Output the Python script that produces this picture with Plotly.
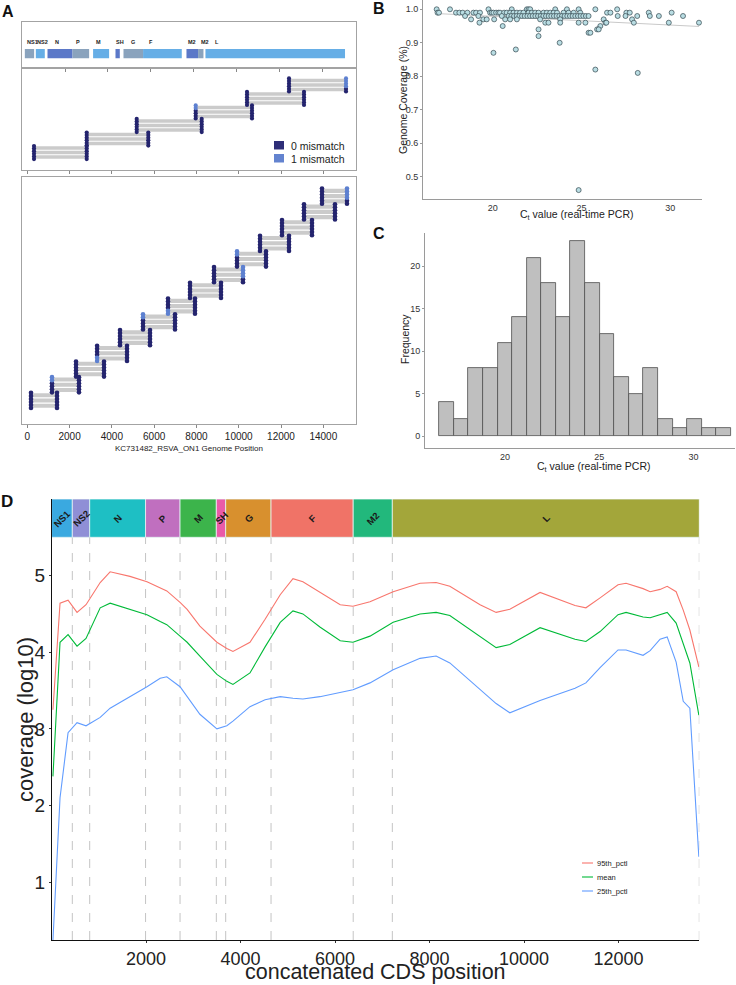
import numpy as np
import plotly.graph_objects as go

W, H = 736, 985
FONT = "Liberation Sans, Arial, Helvetica, sans-serif"

# ---------------- Panel A : gene map (genome coordinates) ----------------
a_gene_names = ["NS1", "NS2", "N", "P", "M", "SH", "G", "F", "M2", "M2", "L"]
a_gene_start = [126, 638, 1183, 2349, 3308, 4352, 4725, 5638, 7661, 8202, 8546]
a_gene_end = [560, 1057, 2349, 3123, 4054, 4553, 5638, 7442, 8202, 8453, 15052]
a_gene_label_pos = [126, 592, 1445, 2423, 3355, 4300, 4987, 5811, 7661, 8248, 8901]
a_ticks = [0, 2000, 4000, 6000, 8000, 10000, 12000, 14000]

# ---------------- Panel A : amplicon schemes ----------------
scheme1_start = [317, 2810, 5175, 7965, 10392, 12378]
scheme1_end = [2810, 5723, 8249, 10628, 13088, 15074]
scheme1_mm_left = [0, 0, 0, 2, 0, 0]      # + : top dots with 1 mismatch, - : bottom dots
scheme1_mm_right = [0, 0, 0, 0, 0, 4]

scheme2_start = [175, 1168, 2304, 3301, 4385, 5473, 6655, 7696, 8831, 9919, 11007, 12047, 13087, 13939]
scheme2_end = [1405, 2445, 3628, 4716, 5804, 6987, 7932, 9162, 10203, 11290, 12378, 13466, 14554, 15121]
scheme2_mm_left = [0, 2, 0, -2, 0, 2, -2, 0, 0, 2, 0, 0, 0, 0]
scheme2_mm_right = [0, 0, 0, 0, 0, 0, 0, 0, 4, 0, 0, 0, 0, 4]

# ---------------- Panel B : coverage vs Ct ----------------
ct_cov100 = [16.84, 17.59, 19.76, 21.07, 21.92, 22.02, 22.11, 23.52, 24.18, 24.84, 25.78, 27.01]
ct_cov099 = [16.89, 16.97, 17.93, 18.12, 18.31, 18.57, 18.91, 19.06, 19.28, 19.85, 19.94, 20.04,
             20.19, 20.32, 20.41, 20.64, 20.79, 20.98, 21.17, 21.36, 21.54, 21.73, 22.02, 22.20,
             22.39, 22.58, 22.86, 23.05, 23.24, 23.43, 23.62, 23.99, 24.27, 24.56, 24.93, 26.44,
             26.63, 27.53, 27.72, 28.79, 30.08]
ct_cov098 = [20.89, 21.05, 21.20, 21.35, 21.50, 21.65, 21.80, 21.95, 22.10, 22.25, 22.40, 22.55,
             22.70, 22.85, 23.00, 23.15, 23.30, 23.45, 23.60, 23.75, 23.90, 24.05, 24.20, 24.35,
             24.50, 24.65, 24.80, 24.95, 25.10, 25.25, 25.40, 18.44, 19.19, 20.51, 27.04, 27.48,
             28.14, 28.85, 29.36, 30.72]
ct_cov097 = [18.78, 19.47, 19.66, 20.08, 20.70, 20.98, 21.36, 22.67, 23.80, 26.25, 27.85]
ct_cov096 = [19.25, 22.96, 23.14, 23.80, 24.84, 25.22, 26.35, 26.40, 27.95, 29.92, 31.62]
low_ct = [20.56, 26.06, 25.88, 25.97, 22.58, 22.58, 25.40, 25.50, 23.77, 21.30, 20.04, 25.78, 28.17, 24.84]
low_cov = [0.95, 0.95, 0.94, 0.94, 0.94, 0.92, 0.93, 0.93, 0.90, 0.88, 0.87, 0.82, 0.81, 0.46]

# ---------------- Panel C : Ct histogram ----------------
c_bin_start = 16.5
c_bin_width = 0.775
c_counts = [4, 2, 8, 8, 11, 14, 21, 18, 14, 23, 18, 12, 7, 5, 8, 2, 1, 2, 1, 1]

# ---------------- Panel D : coverage along concatenated CDS ----------------
d_genes = ["NS1", "NS2", "N", "P", "M", "SH", "G", "F", "M2", "L"]
d_gene_start = [1, 440, 808, 1990, 2720, 3488, 3686, 4646, 6385, 7213]
d_gene_end = [440, 808, 1990, 2720, 3488, 3686, 4646, 6385, 7213, 13710]
d_pos = [30, 180, 350, 540, 730, 1030, 1240, 1660, 2020, 2300, 2440, 2720, 2870, 3140, 3500,
         3710, 3840, 4200, 4520, 4840, 5110, 5320, 5680, 6110, 6380, 6740, 7230, 7800, 8140,
         8430, 9070, 9410, 9700, 10340, 11080, 11310, 11610, 11990, 12160, 12520, 12670, 12880,
         13030, 13220, 13370, 13510, 13700]
d_pct95 = [3.25, 4.64, 4.68, 4.52, 4.62, 4.91, 5.05, 4.99, 4.92, 4.84, 4.80, 4.65, 4.56, 4.34, 4.13,
           4.05, 4.01, 4.13, 4.43, 4.75, 4.96, 4.92, 4.78, 4.62, 4.60, 4.66, 4.79, 4.90, 4.91,
           4.86, 4.62, 4.52, 4.56, 4.78, 4.61, 4.58, 4.71, 4.88, 4.90, 4.83, 4.79, 4.82,
           4.86, 4.79, 4.55, 4.29, 3.81]
d_mean = [2.38, 4.13, 4.23, 4.08, 4.18, 4.58, 4.64, 4.56, 4.49, 4.40, 4.36, 4.21, 4.13, 3.95, 3.71,
          3.62, 3.58, 3.73, 4.07, 4.39, 4.54, 4.50, 4.33, 4.15, 4.13, 4.21, 4.39, 4.50, 4.52,
          4.48, 4.21, 4.06, 4.10, 4.32, 4.17, 4.14, 4.27, 4.49, 4.52, 4.46, 4.45, 4.49,
          4.52, 4.38, 4.10, 3.86, 3.18]
d_pct25 = [0.24, 2.10, 2.95, 3.08, 3.04, 3.15, 3.27, 3.42, 3.55, 3.66, 3.68, 3.55, 3.42, 3.19, 3.00,
           3.04, 3.10, 3.29, 3.38, 3.42, 3.40, 3.39, 3.42, 3.47, 3.51, 3.60, 3.77, 3.92, 3.95,
           3.86, 3.52, 3.33, 3.21, 3.37, 3.53, 3.60, 3.80, 4.03, 4.03, 3.96, 4.02, 4.17,
           4.20, 3.87, 3.36, 3.27, 1.33]

# ======================= styles / helpers =======================
A_GENE_COLORS = ["#8aa3bd", "#66aee6", "#5b78c8"]
D_GENE_COLORS = {"NS1": "#3aa9e0", "NS2": "#8f8fd6", "N": "#1ebfc4", "P": "#c06fbf", "M": "#3cb44b",
                 "SH": "#ea5aa8", "G": "#d8902e", "F": "#f07367", "M2": "#22b87c", "L": "#a3a63a"}
DOT_DARK = "#24246e"
DOT_LIGHT = "#5d80d0"
BAND_GRAY = "#cbcbcb"
BOX_LINE = "#a3a3a3"


def dom_x(l, r):
    return [l / W, r / W]


def dom_y(t, b):
    return [1 - b / H, 1 - t / H]


def px(x):
    return x / W


def py(y):
    return 1 - y / H


annotations = []
shapes = []


def ann(text, x, y, size, xanchor="center", yanchor="middle", angle=0, bold=False,
        color="#222222", xref="paper", yref="paper"):
    if xref == "paper":
        x = px(x)
    if yref == "paper":
        y = py(y)
    annotations.append(dict(text=("<b>%s</b>" % text) if bold else text, x=x, y=y,
                            xref=xref, yref=yref, showarrow=False, textangle=angle,
                            xanchor=xanchor, yanchor=yanchor,
                            font=dict(size=size, family=FONT, color=color)))


fig = go.Figure()

# ----------------------- Panel A gene map -----------------------
for i, (s, e) in enumerate(zip(a_gene_start, a_gene_end)):
    shapes.append(dict(type="rect", xref="x", yref="y", x0=s, x1=e, y0=0.215, y1=0.415,
                       fillcolor=A_GENE_COLORS[i % 3], line=dict(width=0), layer="above"))
for name, lx in zip(a_gene_names, a_gene_label_pos):
    ann(name, lx, 0.56, 5.5, xanchor="left", bold=True, color="#222", xref="x", yref="y")


# ----------------------- Panel A amplicons -----------------------
def add_scheme(starts, ends, mm_left, mm_right, xa, ya, band_w, msize):
    bx, by = [], []
    for k, (s, e) in enumerate(zip(starts, ends)):
        for r in range(3):
            y = 3 * k + r
            bx += [s, e, None]
            by += [y, y, None]
    fig.add_trace(go.Scatter(x=bx, y=by, mode="lines", xaxis=xa, yaxis=ya,
                             line=dict(color=BAND_GRAY, width=band_w), hoverinfo="skip"))
    offsets = [-0.45, 0.13, 0.71, 1.29, 1.87, 2.45]
    n = len(offsets)
    dx, dy, lx, ly = [], [], [], []
    for k, (s, e) in enumerate(zip(starts, ends)):
        for xpos, mm in ((s, mm_left[k]), (e, mm_right[k])):
            for i, off in enumerate(offsets):
                y = 3 * k + off
                light = (mm > 0 and i >= n - mm) or (mm < 0 and i < -mm)
                if light:
                    lx.append(xpos); ly.append(y)
                else:
                    dx.append(xpos); dy.append(y)
    fig.add_trace(go.Scatter(x=dx, y=dy, mode="markers", xaxis=xa, yaxis=ya,
                             marker=dict(color=DOT_DARK, size=msize, line=dict(width=0)),
                             hoverinfo="skip"))
    fig.add_trace(go.Scatter(x=lx, y=ly, mode="markers", xaxis=xa, yaxis=ya,
                             marker=dict(color=DOT_LIGHT, size=msize, line=dict(width=0)),
                             hoverinfo="skip"))


add_scheme(scheme1_start, scheme1_end, scheme1_mm_left, scheme1_mm_right, "x2", "y2", 3.4, 4.2)
add_scheme(scheme2_start, scheme2_end, scheme2_mm_left, scheme2_mm_right, "x3", "y3", 4.1, 4.6)

# legend of panel A
shapes.append(dict(type="rect", xref="paper", yref="paper", x0=px(274), x1=px(284), y0=py(149.5),
                   y1=py(141), fillcolor="#2e2e78", line=dict(width=0)))
shapes.append(dict(type="rect", xref="paper", yref="paper", x0=px(274), x1=px(284), y0=py(162.5),
                   y1=py(154), fillcolor="#6383cf", line=dict(width=0)))
ann("0 mismatch", 288.5, 145.5, 10.5, xanchor="left")
ann("1 mismatch", 288.5, 158.5, 10.5, xanchor="left")

# ----------------------- Panel B -----------------------
b_ct = ct_cov100 + ct_cov099 + ct_cov098 + ct_cov097 + ct_cov096 + low_ct
b_cov = ([1.00] * len(ct_cov100) + [0.99] * len(ct_cov099) + [0.98] * len(ct_cov098)
         + [0.97] * len(ct_cov097) + [0.96] * len(ct_cov096) + low_cov)
coef = np.polyfit(b_ct, b_cov, 1)
fit_x = np.array([min(b_ct), max(b_ct)])
fig.add_trace(go.Scatter(x=fit_x, y=np.polyval(coef, fit_x), mode="lines", xaxis="x4", yaxis="y4",
                         line=dict(color="#c9c9c9", width=1), hoverinfo="skip"))
fig.add_trace(go.Scatter(x=b_ct, y=b_cov, mode="markers", xaxis="x4", yaxis="y4",
                         marker=dict(size=5, color="#b9dde3", line=dict(color="#34484f", width=0.7))))

# ----------------------- Panel C -----------------------
c_centers = c_bin_start + c_bin_width * (np.arange(len(c_counts)) + 0.5)
fig.add_trace(go.Bar(x=c_centers, y=c_counts, width=c_bin_width, xaxis="x5", yaxis="y5",
                     marker=dict(color="#bfbfbf", line=dict(color="#4f4f4f", width=0.8))))

# ----------------------- Panel D -----------------------
for g, s, e in zip(d_genes, d_gene_start, d_gene_end):
    shapes.append(dict(type="rect", xref="x6", yref="y6", x0=s, x1=e, y0=5.5, y1=6.0,
                       fillcolor=D_GENE_COLORS[g], line=dict(color="#e4f4f2", width=0.8), layer="below"))
    shapes.append(dict(type="line", xref="x6", yref="y6", x0=e, x1=e, y0=0.244, y1=5.5,
                       line=dict(color="#bdbdbd", width=0.9, dash="dash"), layer="below"))
    ann(g, (s + e) / 2, 5.75, 9.5, angle=-45, bold=True, color="#1a1a1a", xref="x6", yref="y6")

series = [("95th_pctl", d_pct95, "#F8766D"), ("mean", d_mean, "#00BA38"), ("25th_pctl", d_pct25, "#619CFF")]
for name, vals, col in series:
    fig.add_trace(go.Scatter(x=d_pos, y=vals, mode="lines", name=name, xaxis="x6", yaxis="y6",
                             line=dict(color=col, width=1.1)))

# legend of panel D
for i, (name, vals, col) in enumerate(series):
    yy = 863 + 14 * i
    shapes.append(dict(type="line", xref="paper", yref="paper", x0=px(582), x1=px(593), y0=py(yy),
                       y1=py(yy), line=dict(color=col, width=1.1)))
    ann(name, 595, yy, 7.5, xanchor="left")

# ----------------------- titles / labels -----------------------
ann("A", 8, 12, 16, bold=True, color="#111")
ann("B", 379, 9, 16, bold=True, color="#111")
ann("C", 379, 234, 16, bold=True, color="#111")
ann("D", 7, 501, 17, bold=True, color="#111")

ann("KC731482_RSVA_ON1 Genome Position", 188.7, 448, 8)
ann("Genome Coverage (%)", 403, 100, 10.5, angle=-90)
ann("C<sub>t</sub> value (real-time PCR)", 577, 215, 10.5)
ann("Frequency", 405, 339, 10.5, angle=-90)
ann("C<sub>t</sub> value (real-time PCR)", 594, 467, 10.5)
ann("coverage (log10)", 25, 720, 22, angle=-90)
ann("concatenated CDS position", 375.5, 971.5, 21.5)

# ----------------------- layout -----------------------
tickfont_small = dict(size=9, family=FONT, color="#333")
box = dict(showline=True, mirror=True, linecolor=BOX_LINE, linewidth=1.3, showgrid=False, zeroline=False)

layout = dict(
    width=W, height=H, autosize=False, margin=dict(l=0, r=0, t=0, b=0),
    paper_bgcolor="white", plot_bgcolor="rgba(0,0,0,0)", showlegend=False, bargap=0,
    font=dict(family=FONT, color="#222"),
    # A gene map
    xaxis=dict(domain=dom_x(21.7, 355.7), range=[-20, 15550], anchor="y", ticks="outside", ticklen=3,
               tickcolor="#888", tickvals=a_ticks[1:], showticklabels=False, **box),
    yaxis=dict(domain=dom_y(21.7, 68.3), range=[0, 1], anchor="x", showticklabels=False, ticks="", **box),
    # A scheme 1
    xaxis2=dict(domain=dom_x(21.7, 355.7), range=[-265, 15533], anchor="y2", ticks="outside", ticklen=3,
                tickcolor="#888", tickvals=a_ticks, showticklabels=False, **box),
    yaxis2=dict(domain=dom_y(68.3, 170), range=[-2.88, 19.7], anchor="x2", showticklabels=False, ticks="", **box),
    # A scheme 2
    xaxis3=dict(domain=dom_x(21.7, 355.7), range=[-265, 15533], anchor="y3", ticks="outside", ticklen=3,
                tickcolor="#888", tickvals=a_ticks, ticktext=[str(t) for t in a_ticks],
                tickfont=dict(size=10, family=FONT, color="#222"), **box),
    yaxis3=dict(domain=dom_y(177, 424.3), range=[-3.55, 43.65], anchor="x3", showticklabels=False, ticks="", **box),
    # B
    xaxis4=dict(domain=dom_x(423, 702), range=[16.07, 31.79], anchor="y4", showline=True, linecolor="#9a9a9a",
                linewidth=1, showgrid=False, zeroline=False, ticks="",
                tickvals=[20, 25, 30], tickfont=tickfont_small),
    yaxis4=dict(domain=dom_y(0, 199), range=[0.4334, 1.0278], anchor="x4", showline=True, linecolor="#9a9a9a",
                linewidth=1, showgrid=False, zeroline=False, ticks="outside", ticklen=2, tickcolor="#9a9a9a",
                tickvals=[0.5, 0.6, 0.7, 0.8, 0.9, 1.0], ticktext=["0.5", "0.6", "0.7", "0.8", "0.9", "1.0"],
                tickfont=tickfont_small),
    # C
    xaxis5=dict(domain=dom_x(425, 735), range=[15.75, 32.21], anchor="y5", showline=True, linecolor="#9a9a9a",
                linewidth=1, showgrid=False, zeroline=False, ticks="",
                tickvals=[20, 25, 30], tickfont=tickfont_small),
    yaxis5=dict(domain=dom_y(233, 448), range=[-1.41, 23.9], anchor="x5", showline=True, linecolor="#9a9a9a",
                linewidth=1, showgrid=False, zeroline=False, ticks="outside", ticklen=2, tickcolor="#9a9a9a",
                tickvals=[0, 5, 10, 15, 20], tickfont=tickfont_small),
    # D
    xaxis6=dict(domain=dom_x(52, 699.3), range=[10, 13710], anchor="y6", showline=True, linecolor="#111",
                linewidth=1.3, showgrid=False, zeroline=False, ticks="outside", ticklen=2, tickcolor="#333",
                tickvals=[2000, 4000, 6000, 8000, 10000, 12000],
                ticktext=["2000", "4000", "6000", "8000", "10000", "12000"],
                tickfont=dict(size=18, family=FONT, color="#222")),
    yaxis6=dict(domain=dom_y(499, 940), range=[0.244, 6.0], anchor="x6", showline=True, linecolor="#111",
                linewidth=1.3, showgrid=False, zeroline=False, ticks="outside", ticklen=2, tickcolor="#333",
                tickvals=[1, 2, 3, 4, 5], tickfont=dict(size=19, family=FONT, color="#222")),
    annotations=annotations,
    shapes=shapes,
)
fig.update_layout(**layout)
fig.write_html("out.html", config={"displayModeBar": False},
               post_script="document.body.style.margin='0px';")
